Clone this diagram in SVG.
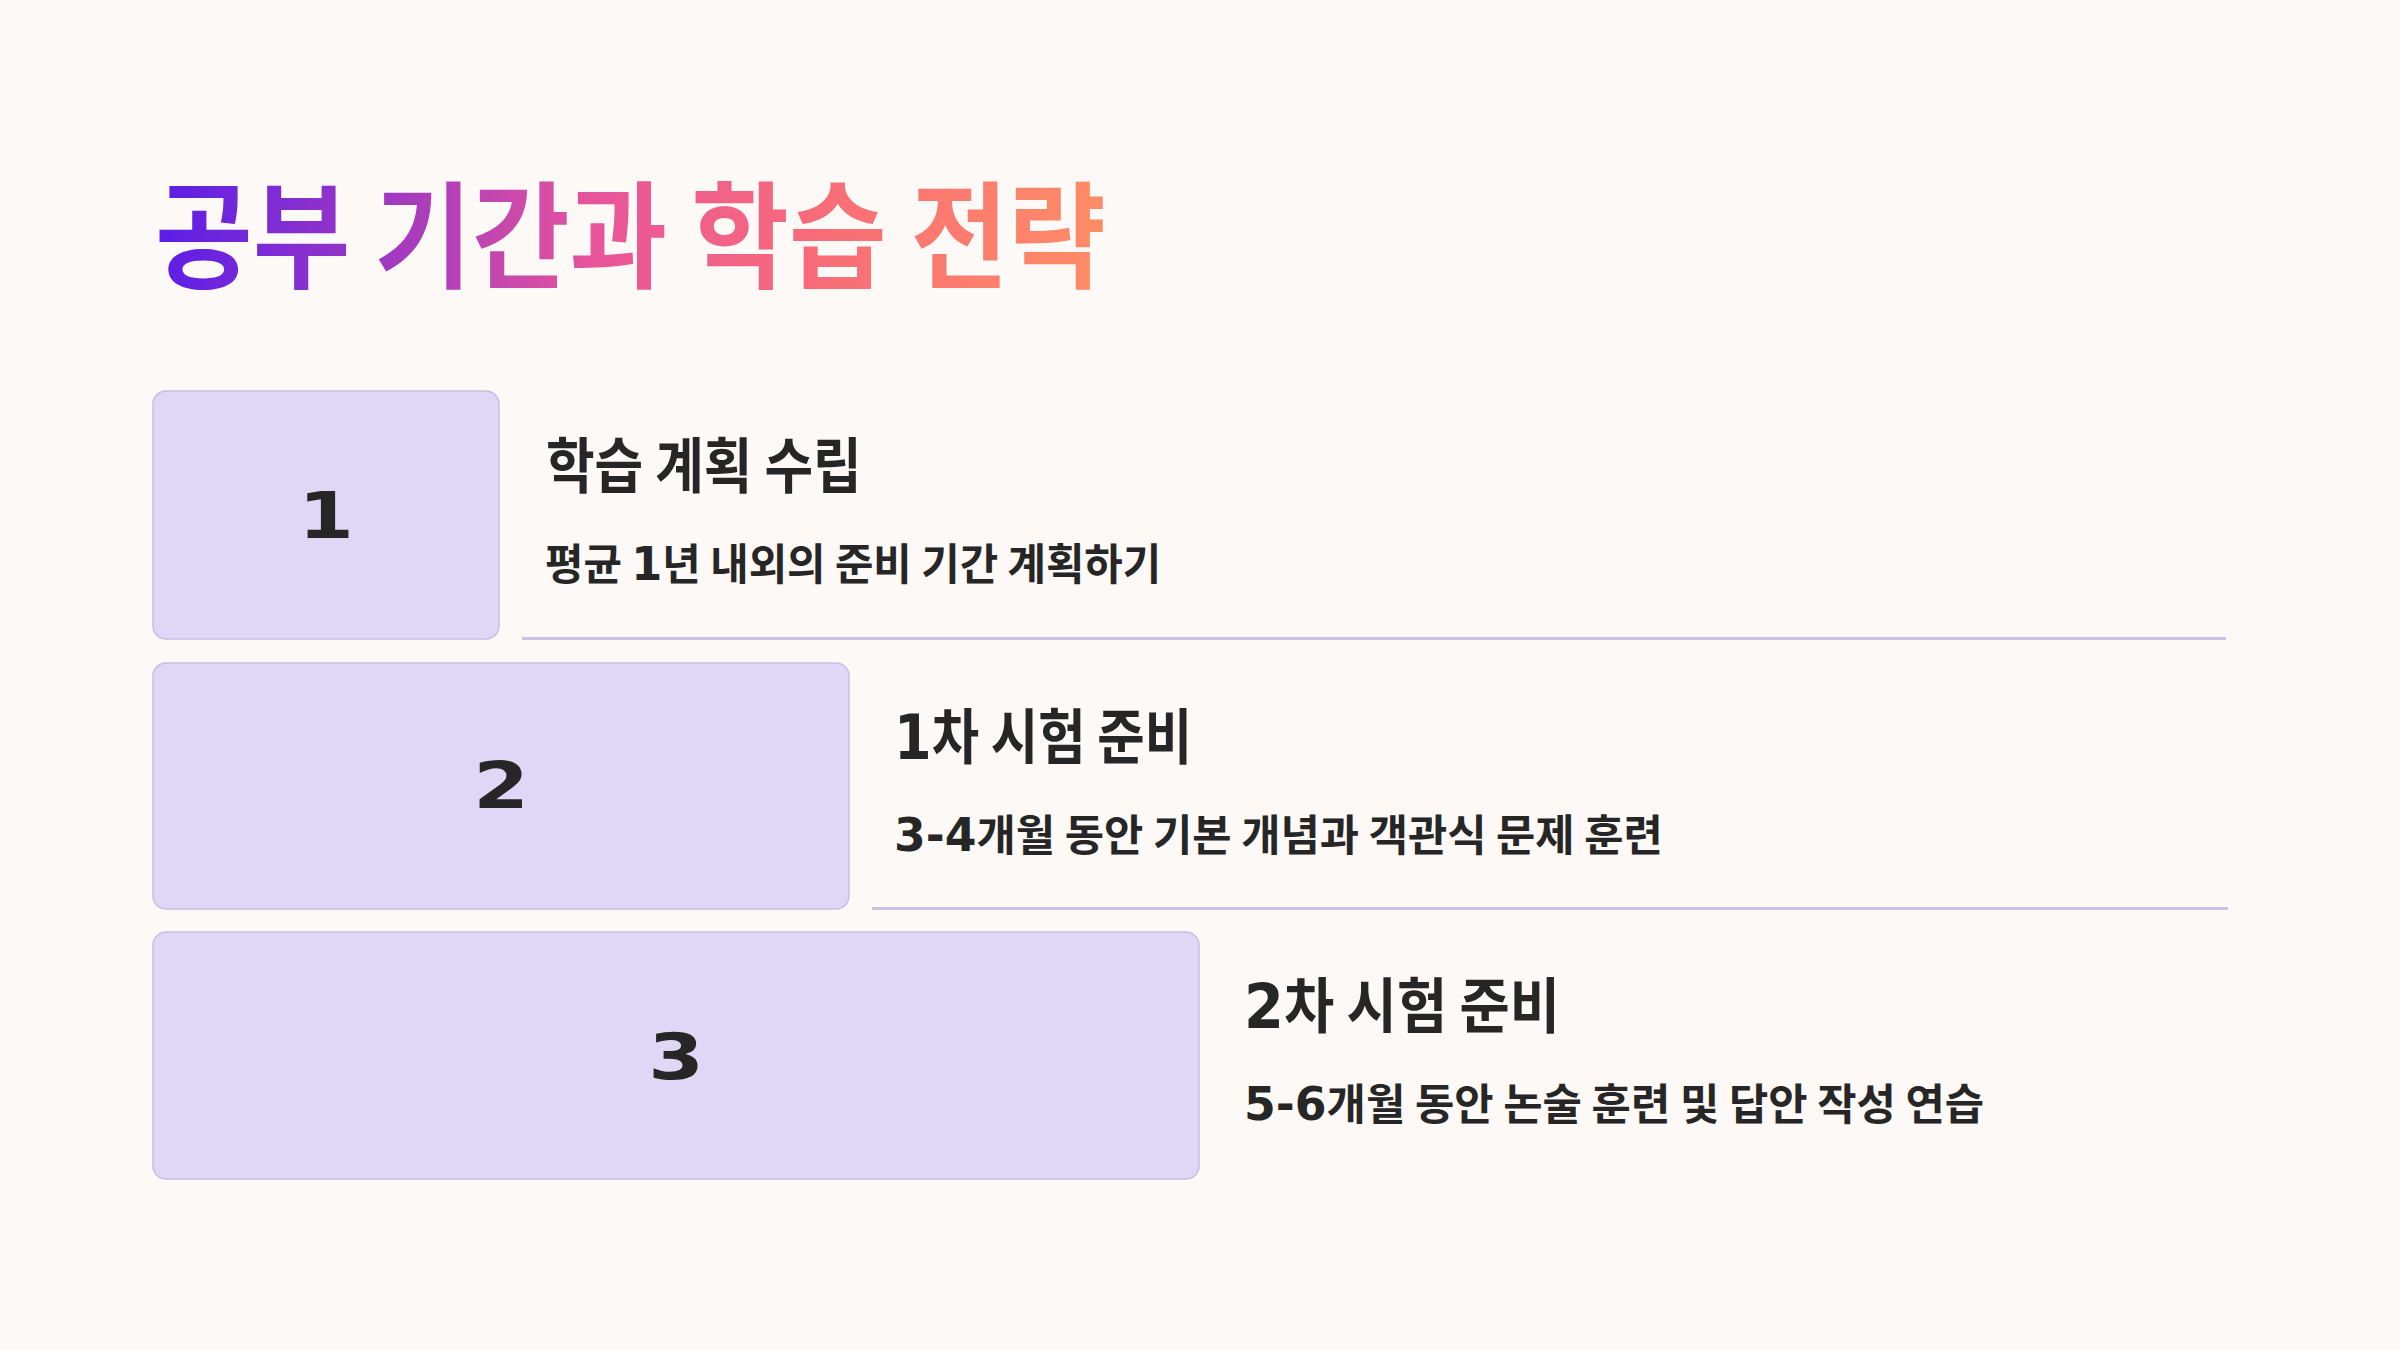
<svg xmlns="http://www.w3.org/2000/svg" width="2400" height="1350" viewBox="0 0 2400 1350">
  <defs>
    <linearGradient id="titleGrad" gradientUnits="userSpaceOnUse" x1="0" y1="0" x2="1034" y2="0">
      <stop offset="0" stop-color="#5A1DE8"/>
      <stop offset="0.3" stop-color="#B03FB8"/>
      <stop offset="0.47" stop-color="#E9559A"/>
      <stop offset="0.7" stop-color="#F86C78"/>
      <stop offset="1" stop-color="#FF8C66"/>
    </linearGradient>
    <style>
      .box { fill: #DFD7F5; stroke: #C8BEE4; stroke-width: 1.5; }
      .num { font-family: "DejaVu Sans", "Liberation Sans", sans-serif; font-weight: bold; font-size: 64px; fill: #262626; text-anchor: middle; }
      .head { font-family: "Noto Sans CJK KR", "Noto Sans", sans-serif; font-weight: bold; font-size: 60px; fill: #262626; }
      .sub { font-family: "Noto Sans CJK KR", "Noto Sans", sans-serif; font-weight: bold; font-size: 43px; fill: #262626; }
      .dig { font-family: "DejaVu Sans", "Liberation Sans", sans-serif; font-weight: bold; }
      .sep { stroke: #CCC3E3; stroke-width: 3; fill: none; }
      .title { font-family: "Noto Sans CJK KR", "Noto Sans", sans-serif; font-weight: bold; font-size: 116px; fill: url(#titleGrad); }
    </style>
  </defs>
  <rect x="0" y="0" width="2400" height="1350" fill="#FDF9F6"/>

  <g id="title">
    <text class="title" transform="translate(155,279) scale(0.915,1)">공부 기간과 학습 전략</text>
  </g>

  <g id="connectors">
    <line class="sep" x1="522" y1="638.5" x2="2226" y2="638.5"/>
    <line class="sep" x1="872" y1="908.5" x2="2228" y2="908.5"/>
  </g>

  <g id="step1">
    <rect class="box" x="153" y="391" width="346" height="248" rx="13"/>
    <text class="num" transform="translate(326,538) scale(1.25,1)">1</text>
    <text class="head" transform="translate(546,488) scale(0.881,1)">학습 계획 수립</text>
    <text class="sub" transform="translate(545,580) scale(0.971,1)">평균 <tspan class="dig" font-size="46">1</tspan>년 내외의 준비 기간 계획하기</text>
  </g>

  <g id="step2">
    <rect class="box" x="153" y="663" width="696" height="246" rx="13"/>
    <text class="num" transform="translate(501,808) scale(1.25,1)">2</text>
    <text class="head" transform="translate(894,759) scale(0.859,1)"><tspan class="dig" font-size="63">1</tspan>차 시험 준비</text>
    <text class="sub" transform="translate(894,851) scale(0.993,1)"><tspan class="dig" font-size="46">3-4</tspan>개월 동안 기본 개념과 객관식 문제 훈련</text>
  </g>

  <g id="step3">
    <rect class="box" x="153" y="932" width="1046" height="247" rx="13"/>
    <text class="num" transform="translate(676,1079) scale(1.25,1)">3</text>
    <text class="head" transform="translate(1244,1028) scale(0.911,1)"><tspan class="dig" font-size="63">2</tspan>차 시험 준비</text>
    <text class="sub" transform="translate(1244,1120) scale(0.994,1)"><tspan class="dig" font-size="46">5-6</tspan>개월 동안 논술 훈련 및 답안 작성 연습</text>
  </g>
</svg>
